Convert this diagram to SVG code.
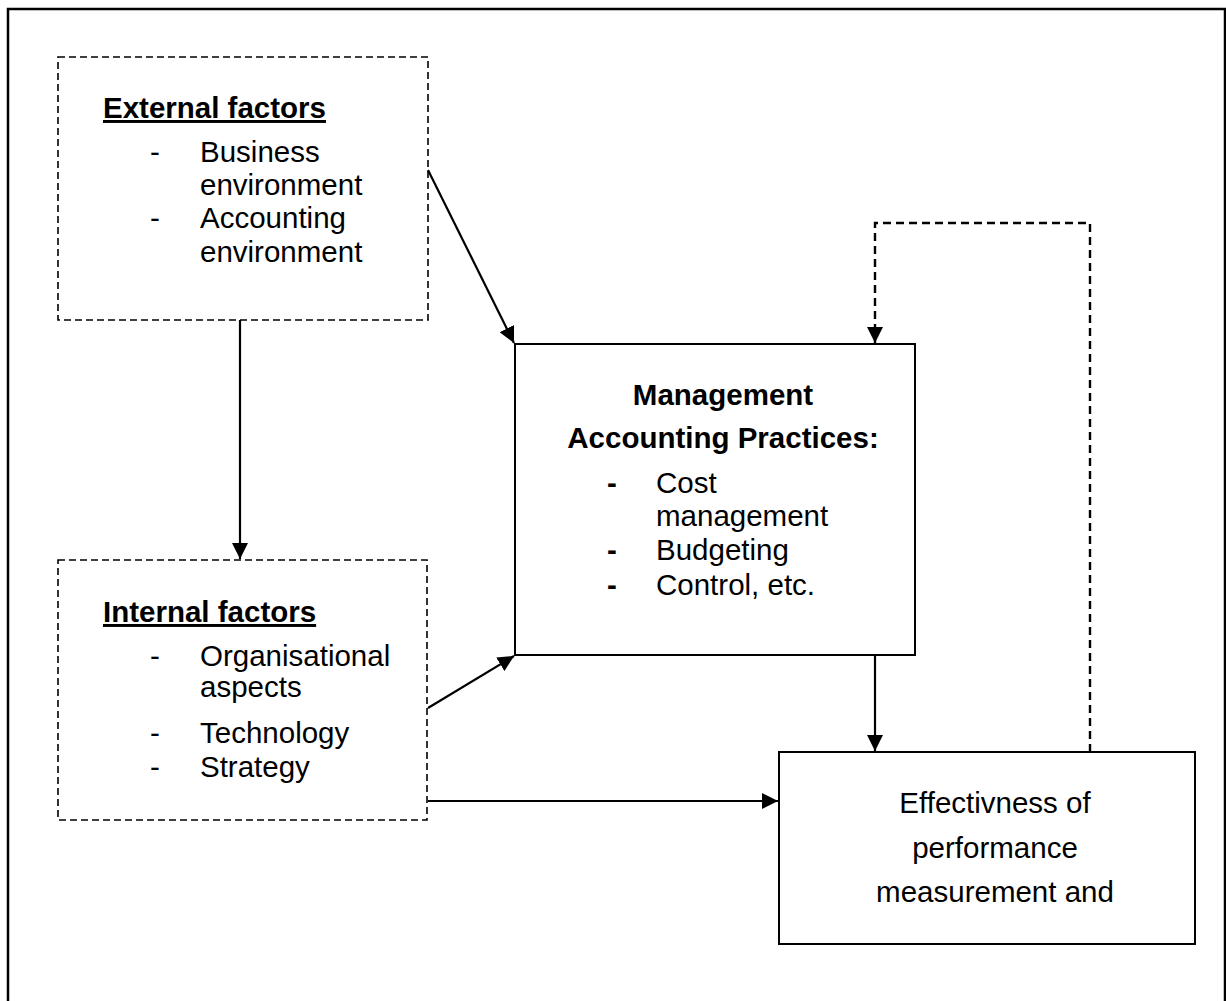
<svg xmlns="http://www.w3.org/2000/svg" width="1226" height="1001" viewBox="0 0 1226 1001">
  <style>
    text { font-family: "Liberation Sans", Arial, sans-serif; font-size: 29.5px; fill: #000; }
    .b { font-weight: bold; }
    .u { text-decoration: underline; }
    .dashed { fill: #fff; stroke: #000; stroke-width: 1.6; stroke-dasharray: 7 4; }
    .solid { fill: #fff; stroke: #000; stroke-width: 2; }
    .line { fill: none; stroke: #000; stroke-width: 2.2; }
    .dline { fill: none; stroke: #000; stroke-width: 2.4; stroke-dasharray: 8 5; }
  </style>
  <defs>
    <marker id="arrow" viewBox="0 0 16 16" refX="16" refY="8" markerWidth="16" markerHeight="16" markerUnits="userSpaceOnUse" orient="auto">
      <path d="M0,0 L16,8 L0,16 Z" fill="#000"/>
    </marker>
  </defs>
  <rect width="1226" height="1001" fill="#fff"/>
  <!-- outer frame -->
  <path d="M8,1005 V9 H1225 V1005" fill="none" stroke="#000" stroke-width="2.5"/>

  <g id="external">
    <rect class="dashed" x="58" y="57" width="370" height="263"/>
    <text class="b u" x="103" y="118">External factors</text>
    <text x="150" y="162">-</text>
    <text x="200" y="162">Business</text>
    <text x="200" y="195">environment</text>
    <text x="150" y="228">-</text>
    <text x="200" y="228">Accounting</text>
    <text x="200" y="262">environment</text>
  </g>

  <g id="internal">
    <rect class="dashed" x="58" y="560" width="369" height="260"/>
    <text class="b u" x="103" y="622">Internal factors</text>
    <text x="150" y="666">-</text>
    <text x="200" y="666">Organisational</text>
    <text x="200" y="697">aspects</text>
    <text x="150" y="743">-</text>
    <text x="200" y="743">Technology</text>
    <text x="150" y="777">-</text>
    <text x="200" y="777">Strategy</text>
  </g>

  <g id="practices">
    <rect class="solid" x="515" y="344" width="400" height="311"/>
    <text class="b" x="723" y="405" text-anchor="middle">Management</text>
    <text class="b" x="723" y="448" text-anchor="middle">Accounting Practices:</text>
    <text class="b" x="607" y="493">-</text>
    <text x="656" y="493">Cost</text>
    <text x="656" y="526">management</text>
    <text class="b" x="607" y="560">-</text>
    <text x="656" y="560">Budgeting</text>
    <text class="b" x="607" y="595">-</text>
    <text x="656" y="595">Control, etc.</text>
  </g>

  <g id="effectiveness">
    <rect class="solid" x="779" y="752" width="416" height="192"/>
    <text x="995" y="813" text-anchor="middle">Effectivness of</text>
    <text x="995" y="858" text-anchor="middle">performance</text>
    <text x="995" y="902" text-anchor="middle">measurement and</text>
  </g>

  <g id="connectors">
    <line class="line" x1="240" y1="320" x2="240" y2="559" marker-end="url(#arrow)"/>
    <line class="line" x1="428" y1="170" x2="514" y2="343" marker-end="url(#arrow)"/>
    <line class="line" x1="428" y1="708" x2="514" y2="656" marker-end="url(#arrow)"/>
    <line class="line" x1="428" y1="801" x2="778" y2="801" marker-end="url(#arrow)"/>
    <line class="line" x1="875" y1="655" x2="875" y2="751" marker-end="url(#arrow)"/>
    <path class="dline" d="M1090,752 V223 H875 V343" marker-end="url(#arrow)"/>
  </g>
</svg>
